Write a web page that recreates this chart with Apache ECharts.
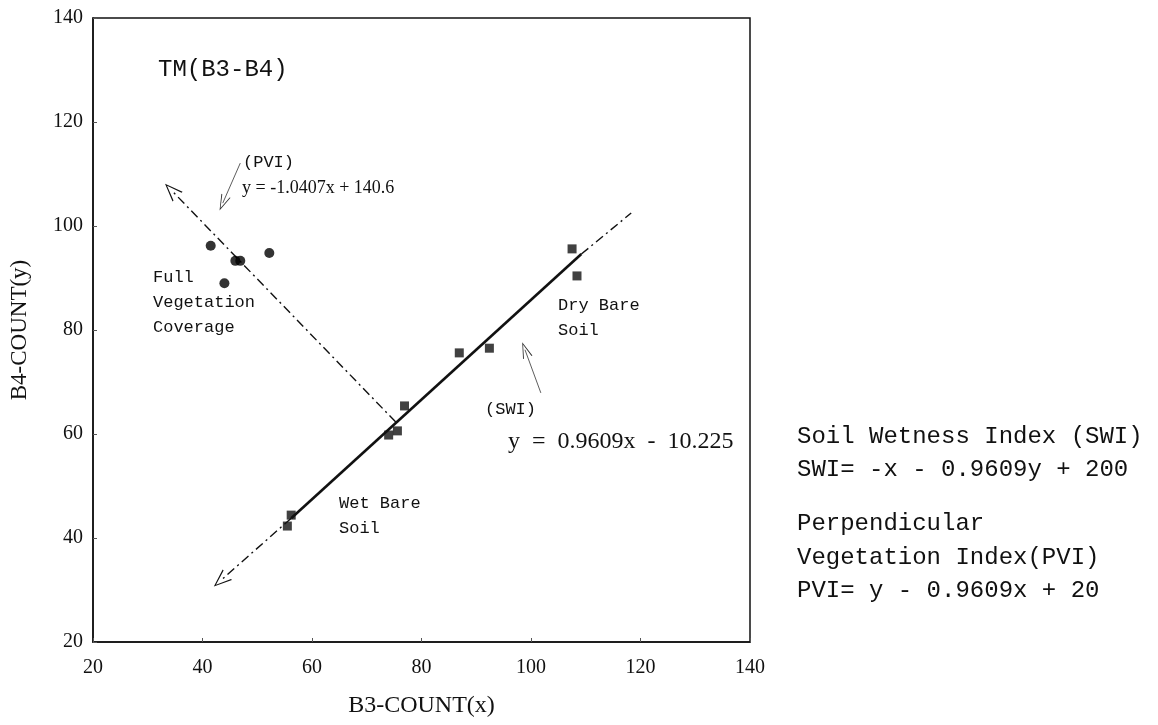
<!DOCTYPE html>
<html>
<head>
<meta charset="utf-8">
<script src="https://cdn.jsdelivr.net/npm/echarts@6/dist/echarts.min.js"></script>
<style>
html,body{margin:0;padding:0;background:#fff;}
#c{width:1158px;height:725px;}
</style>
</head>
<body>
<div id="c"></div>
<script>
// ---- data ----
const vegX = [41.5, 46.0, 46.9, 52.2, 44.0];
const vegY = [96.2, 93.3, 93.3, 94.8, 89.0];
const soilX = [55.5, 56.2, 74.0, 75.6, 76.9, 86.9, 92.4, 107.5, 108.4];
const soilY = [42.3, 44.4, 59.8, 60.6, 65.4, 75.6, 76.5, 95.6, 90.4];
// SWI fitted line (solid part) and its dash-dot extensions
const swiSolidX = [56.2, 109.2];
const swiSolidY = [43.8, 94.6];
const swiUpperX = [109.2, 118.3];
const swiUpperY = [94.6, 102.5];
const swiLowerX = [56.2, 43.3];
const swiLowerY = [43.8, 31.8];
// PVI dash-dot line (ends with arrow)
const pviX = [75.3, 34.3];
const pviY = [62.3, 106.9];
// annotation pointers
const pviPtrX = [46.9, 43.7];
const pviPtrY = [112.1, 104.4];
const swiPtrX = [101.8, 98.9];
const swiPtrY = [67.9, 76.2];
// axes
const axisMin = 20, axisMax = 140, axisStep = 20;
const xName = 'B3-COUNT(x)';
const yName = 'B4-COUNT(y)';

const zip = (xs, ys) => xs.map((x, i) => [x, ys[i]]);
const chevron = 'path://M50,0 L100,100 L90,100 L50,16 L10,100 L0,100 Z';
const dashDot = [9, 4, 2, 4];
const mono = '"Liberation Mono", "DejaVu Sans Mono", monospace';
const serif = '"Liberation Serif", "DejaVu Serif", serif';

function seg(xs, ys, style, arrow, size) {
  return [
    { coord: [xs[0], ys[0]], symbol: 'none', lineStyle: style },
    { coord: [xs[1], ys[1]], symbol: arrow ? chevron : 'none', symbolSize: size || [14, 18] }
  ];
}

const txt = (t, x, y, size, fam) => ({
  type: 'text', x: x, y: y, silent: true,
  style: { text: t, font: size + 'px ' + fam, fill: '#111', textAlign: 'left', textVerticalAlign: 'middle', lineHeight: Math.round(size * 1.45) }
});

const chart = echarts.init(document.getElementById('c'), null, { renderer: 'canvas' });
chart.setOption({
  animation: false,
  backgroundColor: '#fff',
  grid: { left: 90, right: 408, top: 18, bottom: 83, show: true, borderColor: '#111', borderWidth: 1.5, backgroundColor: 'transparent' },
  xAxis: {
    type: 'value', min: axisMin, max: axisMax, interval: axisStep,
    name: xName, nameLocation: 'middle', nameGap: 52,
    nameTextStyle: { fontFamily: serif, fontSize: 24, color: '#111' },
    axisLine: { show: true, lineStyle: { color: '#111', width: 1.5 } },
    axisTick: { show: true, inside: true, length: 4, lineStyle: { color: '#555', width: 1 } },
    axisLabel: { fontFamily: serif, fontSize: 20, color: '#111', margin: 16 },
    splitLine: { show: false }
  },
  yAxis: {
    type: 'value', min: axisMin, max: axisMax, interval: axisStep,
    name: yName, nameLocation: 'middle', nameGap: 62,
    nameTextStyle: { fontFamily: serif, fontSize: 23, color: '#111' },
    axisLine: { show: true, lineStyle: { color: '#111', width: 1.5 } },
    axisTick: { show: true, inside: true, length: 4, lineStyle: { color: '#555', width: 1 } },
    axisLabel: { fontFamily: serif, fontSize: 20, color: '#111', margin: 10 },
    splitLine: { show: false }
  },
  series: [
    {
      name: 'SWI line', type: 'line', data: zip(swiSolidX, swiSolidY),
      symbol: 'none', lineStyle: { color: '#111', width: 2.6 }, z: 3
    },
    {
      name: 'Full vegetation', type: 'scatter', data: zip(vegX, vegY),
      symbol: 'circle', symbolSize: 10, itemStyle: { color: '#000' }, z: 5
    },
    {
      name: 'Bare soil', type: 'scatter', data: zip(soilX, soilY),
      symbol: 'rect', symbolSize: 9, itemStyle: { color: '#111' }, z: 5
    },
    {
      name: 'guides', type: 'line', data: [], z: 2,
      markLine: {
        silent: true, animation: false,
        symbolSize: [14, 18],
        label: { show: false },
        lineStyle: { color: '#111', width: 1.4, type: dashDot },
        emphasis: { disabled: true },
        data: [
          seg(swiUpperX, swiUpperY, { type: dashDot, width: 1.4, color: '#111' }, false),
          seg(swiLowerX, swiLowerY, { type: dashDot, width: 1.4, color: '#111' }, true),
          seg(pviX, pviY, { type: dashDot, width: 1.4, color: '#111' }, true),
          seg(pviPtrX, pviPtrY, { type: 'solid', width: 0.8, color: '#333' }, true, [10, 16]),
          seg(swiPtrX, swiPtrY, { type: 'solid', width: 0.8, color: '#333' }, true, [10, 16])
        ]
      }
    }
  ],
  graphic: [
    txt('TM(B3-B4)', 158, 70, 24, mono),
    txt('(PVI)', 243, 162, 17, mono),
    txt('y = -1.0407x + 140.6', 242, 188, 18, serif),
    txt('Full\nVegetation\nCoverage', 153, 302, 17, mono),
    txt('Dry Bare\nSoil', 558, 318, 17, mono),
    txt('(SWI)', 485, 409, 17, mono),
    txt('y  =  0.9609x  -  10.225', 508, 442, 24, serif),
    txt('Wet Bare\nSoil', 339, 516, 17, mono),
    txt('Soil Wetness Index (SWI)', 797, 437, 24, mono),
    txt('SWI= -x - 0.9609y + 200', 797, 470, 24, mono),
    txt('Perpendicular', 797, 524, 24, mono),
    txt('Vegetation Index(PVI)', 797, 558, 24, mono),
    txt('PVI= y - 0.9609x + 20', 797, 591, 24, mono)
  ]
});
</script>
</body>
</html>
